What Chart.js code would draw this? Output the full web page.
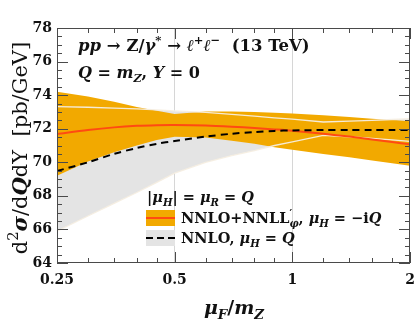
<!DOCTYPE html>
<html>
<head>
<meta charset="utf-8">
<script src="https://cdn.jsdelivr.net/npm/chart.js@4"></script>
<style>
  html, body { margin: 0; padding: 0; background: #fff; }
  #chart { display: block; }
</style>
</head>
<body>
<canvas id="chart" width="415" height="326"></canvas>
<script>
// mu_F / m_Z sample points
const muF = [0.25, 0.3, 0.35, 0.4, 0.45, 0.5, 0.6, 0.7, 0.8, 0.9, 1.0, 1.2, 1.4, 1.6, 1.8, 2.0];

// NNLO+NNLL'_phi, mu_H = -iQ (orange band + red central line)
const resumCentral = [71.68, 71.92, 72.08, 72.17, 72.21, 72.22, 72.19, 72.12, 72.04, 71.96, 71.88, 71.70, 71.53, 71.36, 71.21, 71.07];
const resumUpper   = [74.20, 73.92, 73.60, 73.30, 73.07, 72.88, 73.02, 73.03, 73.00, 72.95, 72.90, 72.80, 72.70, 72.60, 72.52, 72.44];
const resumLower   = [69.20, 70.05, 70.60, 71.00, 71.33, 71.52, 71.48, 71.28, 71.10, 70.90, 70.75, 70.50, 70.30, 70.10, 69.95, 69.80];

// NNLO, mu_H = Q (grey band + dashed central line)
const fixedCentral = [69.48, 70.00, 70.50, 70.85, 71.10, 71.27, 71.53, 71.70, 71.80, 71.87, 71.90, 71.92, 71.93, 71.93, 71.93, 71.93];
const fixedUpper   = [73.32, 73.28, 73.23, 73.18, 73.12, 73.06, 72.97, 72.85, 72.75, 72.65, 72.57, 72.40, 72.45, 72.50, 72.55, 72.60];
const fixedLower   = [65.90, 66.80, 67.55, 68.20, 68.80, 69.35, 70.00, 70.40, 70.70, 71.00, 71.22, 71.60, 71.52, 71.42, 71.33, 71.25];

// axis ticks
const xMajorTicks = [0.25, 0.5, 1, 2];
const xMinorTicks = [0.3, 0.35, 0.4, 0.45, 0.6, 0.7, 0.8, 0.9, 1.2, 1.4, 1.6, 1.8];
const xGridLines  = [0.5, 1];
const yMin = 64, yMax = 78, yStep = 2, yMinorStep = 0.5;

const ORANGE = '#f2a900';
const GREY   = '#e4e4e4';
const RED    = '#ff4a12';
const EDGE   = 'rgba(245,238,225,0.95)';
const FAMILY = '"DejaVu Serif", serif';

const pts = ys => muF.map((x, i) => ({ x: x, y: ys[i] }));

// draws a run of text pieces (italic / sub / sup) starting at x, baseline y
function drawRich(ctx, parts, x, y, size, align) {
    const fontFor = p => {
        const s = (p.sub || p.sup) ? size * 0.7 : size;
        return (p.i ? 'italic ' : '') + (p.n ? '' : 'bold ') + s + 'px ' + FAMILY;
    };
    let w = 0;
    parts.forEach(p => { ctx.font = fontFor(p); if (!p.stack) w += ctx.measureText(p.t).width; });
    let cx = align === 'center' ? x - w / 2 : x;
    ctx.textAlign = 'left';
    ctx.textBaseline = 'alphabetic';
    parts.forEach(p => {
        ctx.font = fontFor(p);
        let dy = 0;
        if (p.sub) dy = size * 0.25;
        if (p.sup) dy = -size * 0.42;
        ctx.fillText(p.t, cx, y + dy);
        if (!p.stack) cx += ctx.measureText(p.t).width;
    });
}

const decor = {
    id: 'decor',
    afterDraw(chart) {
        const ctx = chart.ctx;
        const a = chart.chartArea;
        const xs = chart.scales.x, ys = chart.scales.y;
        ctx.save();

        // frame
        ctx.strokeStyle = '#4a4a4a';
        ctx.lineWidth = 1;
        ctx.strokeRect(a.left + 0.5, a.top + 0.5, a.right - a.left - 1, a.bottom - a.top - 1);

        // ticks pointing inwards on all four sides
        ctx.beginPath();
        const xt = (v, len) => {
            const px = Math.round(xs.getPixelForValue(v)) + 0.5;
            ctx.moveTo(px, a.bottom); ctx.lineTo(px, a.bottom - len);
            ctx.moveTo(px, a.top);    ctx.lineTo(px, a.top + len);
        };
        xMajorTicks.forEach(v => xt(v, 11));
        xMinorTicks.forEach(v => xt(v, 5));
        for (let v = yMin; v <= yMax + 1e-9; v += yMinorStep) {
            const len = Math.abs(v % yStep) < 1e-9 ? 11 : 5;
            const py = Math.round(ys.getPixelForValue(v)) + 0.5;
            ctx.moveTo(a.left, py);  ctx.lineTo(a.left + len, py);
            ctx.moveTo(a.right, py); ctx.lineTo(a.right - len, py);
        }
        ctx.stroke();

        ctx.fillStyle = '#111';

        // process labels
        drawRich(ctx, [
            { t: 'pp', i: 1 }, { t: ' → ' }, { t: 'Z/' }, { t: 'γ', i: 1 }, { t: '*', sup: 1 },
            { t: ' → ' }, { t: 'ℓ', i: 1 }, { t: '+', sup: 1 }, { t: 'ℓ', i: 1 }, { t: '−', sup: 1 },
            { t: '  (13 TeV)' }
        ], 78, 51, 16.5);
        drawRich(ctx, [
            { t: 'Q', i: 1 }, { t: ' = ' }, { t: 'm', i: 1 }, { t: 'Z', i: 1, sub: 1 },
            { t: ', ' }, { t: 'Y', i: 1 }, { t: ' = 0' }
        ], 78, 78, 16);

        // legend
        drawRich(ctx, [
            { t: '|' }, { t: 'μ', i: 1 }, { t: 'H', i: 1, sub: 1 }, { t: '| = ' },
            { t: 'μ', i: 1 }, { t: 'R', i: 1, sub: 1 }, { t: ' = ' }, { t: 'Q', i: 1 }
        ], 147, 202, 14.5);

        ctx.fillStyle = ORANGE;
        ctx.fillRect(146, 210, 29, 16);
        ctx.strokeStyle = RED; ctx.lineWidth = 2; ctx.setLineDash([]);
        ctx.beginPath(); ctx.moveTo(146, 218); ctx.lineTo(175, 218); ctx.stroke();
        ctx.fillStyle = GREY;
        ctx.fillRect(146, 230, 29, 16);
        ctx.strokeStyle = '#000'; ctx.setLineDash([7, 4]);
        ctx.beginPath(); ctx.moveTo(146, 238); ctx.lineTo(175, 238); ctx.stroke();
        ctx.setLineDash([]);

        ctx.fillStyle = '#111';
        drawRich(ctx, [
            { t: 'NNLO+NNLL' }, { t: '′', sup: 1, stack: 1 }, { t: 'φ', i: 1, sub: 1 }, { t: ', ' },
            { t: 'μ', i: 1 }, { t: 'H', i: 1, sub: 1 }, { t: ' = −i' }, { t: 'Q', i: 1 }
        ], 181, 223, 14.5);
        drawRich(ctx, [
            { t: 'NNLO, ' }, { t: 'μ', i: 1 }, { t: 'H', i: 1, sub: 1 }, { t: ' = ' }, { t: 'Q', i: 1 }
        ], 181, 243, 14.5);

        // axis titles
        drawRich(ctx, [
            { t: 'μ', i: 1 }, { t: 'F', i: 1, sub: 1 }, { t: '/' }, { t: 'm', i: 1 }, { t: 'Z', i: 1, sub: 1 }
        ], 234, 314, 19, 'center');

        ctx.translate(27, 148);
        ctx.rotate(-Math.PI / 2);
        drawRich(ctx, [
            { t: 'd', n: 1 }, { t: '2', n: 1, sup: 1 }, { t: 'σ', i: 1 }, { t: '/d', n: 1 },
            { t: 'Q', i: 1 }, { t: 'd', n: 1 }, { t: 'Y', n: 1 }, { t: '  [pb/GeV]', n: 1 }
        ], 0, 0, 21, 'center');

        ctx.restore();
    }
};

const line = (data, color, width, order, extra) => Object.assign({
    data: pts(data), borderColor: color, borderWidth: width, pointRadius: 0,
    fill: false, order: order, tension: 0
}, extra || {});

new Chart(document.getElementById('chart'), {
    type: 'line',
    data: {
        datasets: [
            line(fixedLower, 'rgba(0,0,0,0)', 0, 10),
            line(fixedUpper, 'rgba(0,0,0,0)', 0, 10, { fill: { target: 0 }, backgroundColor: GREY }),
            line(resumLower, 'rgba(0,0,0,0)', 0, 8),
            line(resumUpper, 'rgba(0,0,0,0)', 0, 8, { fill: { target: 2 }, backgroundColor: ORANGE }),
            line(fixedUpper, EDGE, 1.3, 5),
            line(fixedLower, EDGE, 1.3, 5),
            line(resumCentral, RED, 2, 1, { tension: 0.3 }),
            line(fixedCentral, '#000', 2, 0, { tension: 0.3, borderDash: [7, 5] })
        ]
    },
    options: {
        responsive: false,
        animation: false,
        devicePixelRatio: 1,
        layout: { padding: { top: 28, right: 5, left: 0, bottom: 0 } },
        plugins: { legend: { display: false }, tooltip: { enabled: false } },
        scales: {
            x: {
                type: 'logarithmic',
                min: 0.25, max: 2,
                afterBuildTicks: s => { s.ticks = xMajorTicks.map(v => ({ value: v })); },
                afterFit: s => { s.height = 63; s.paddingLeft = 0; s.paddingRight = 0; },
                border: { display: false },
                grid: {
                    drawTicks: false,
                    lineWidth: 1,
                    color: c => (c.tick && xGridLines.includes(c.tick.value)) ? '#d6d6d6' : 'rgba(0,0,0,0)'
                },
                ticks: {
                    autoSkip: false, maxRotation: 0, padding: 9, color: '#111',
                    font: { family: FAMILY, weight: 'bold', size: 14 },
                    callback: v => String(v)
                }
            },
            y: {
                min: yMin, max: yMax,
                afterFit: s => { s.width = 57; },
                border: { display: false },
                grid: { display: false, drawTicks: false },
                ticks: {
                    stepSize: yStep, padding: 5, color: '#111',
                    font: { family: FAMILY, weight: 'bold', size: 14 }
                }
            }
        }
    },
    plugins: [decor]
});
</script>
</body>
</html>
